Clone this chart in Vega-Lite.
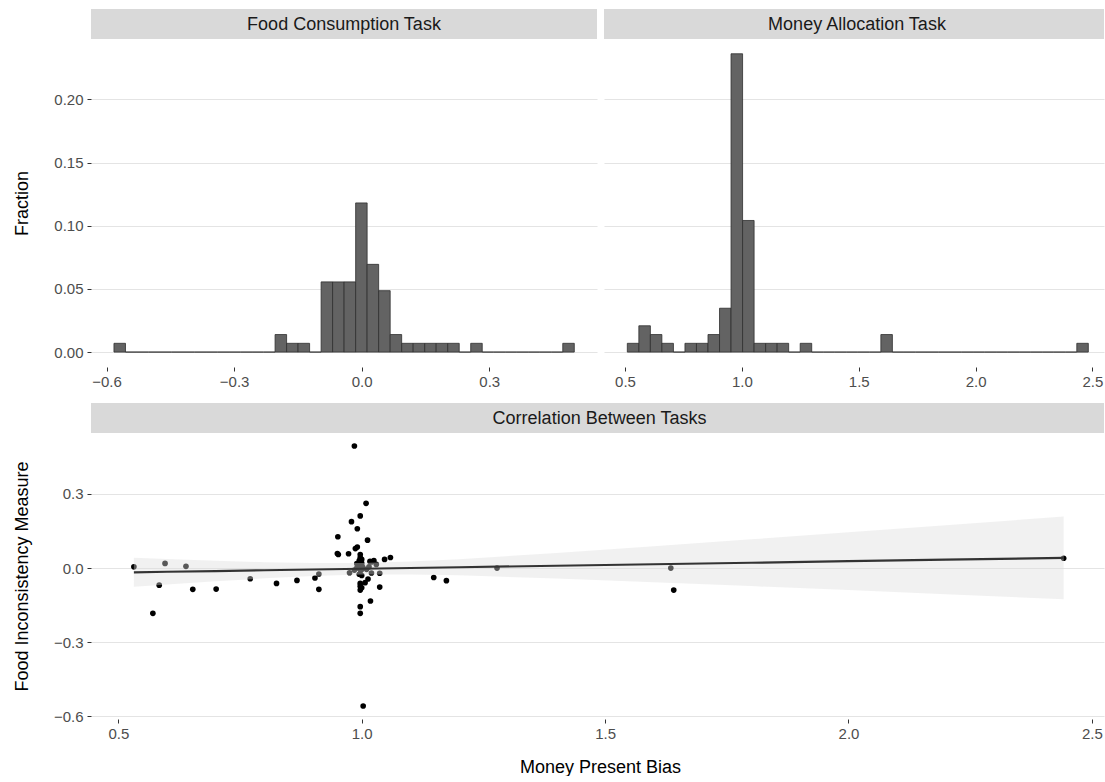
{
  "$schema": "https://vega.github.io/schema/vega-lite/v6.json",
  "padding": {"left": 13, "top": 9, "right": 1, "bottom": 0},
  "background": "#ffffff",
  "config": {
    "font": "Liberation Sans",
    "view": {"stroke": null},
    "axis": {
      "domain": false,
      "labelColor": "#4d4d4d",
      "labelFontSize": 15,
      "titleFontSize": 18,
      "titleFontWeight": "normal",
      "titleColor": "#000000",
      "tickColor": "#333333",
      "tickSize": 4,
      "tickWidth": 1,
      "labelPadding": 3,
      "gridColor": "#e4e4e4",
      "gridWidth": 1.1,
      "labelFlush": false,
      "labelOverlap": false
    }
  },
  "datasets": {
    "food": [
      {"start": -0.5826, "end": -0.5555, "fraction": 0.00694},
      {"start": -0.5555, "end": -0.5285, "fraction": 0},
      {"start": -0.5285, "end": -0.5014, "fraction": 0},
      {"start": -0.5014, "end": -0.4743, "fraction": 0},
      {"start": -0.4743, "end": -0.4473, "fraction": 0},
      {"start": -0.4473, "end": -0.4202, "fraction": 0},
      {"start": -0.4202, "end": -0.3931, "fraction": 0},
      {"start": -0.3931, "end": -0.3661, "fraction": 0},
      {"start": -0.3661, "end": -0.3390, "fraction": 0},
      {"start": -0.3390, "end": -0.3120, "fraction": 0},
      {"start": -0.3120, "end": -0.2849, "fraction": 0},
      {"start": -0.2849, "end": -0.2578, "fraction": 0},
      {"start": -0.2578, "end": -0.2308, "fraction": 0},
      {"start": -0.2308, "end": -0.2037, "fraction": 0},
      {"start": -0.2037, "end": -0.1766, "fraction": 0.01389},
      {"start": -0.1766, "end": -0.1496, "fraction": 0.00694},
      {"start": -0.1496, "end": -0.1225, "fraction": 0.00694},
      {"start": -0.1225, "end": -0.0954, "fraction": 0},
      {"start": -0.0954, "end": -0.0684, "fraction": 0.05556},
      {"start": -0.0684, "end": -0.0413, "fraction": 0.05556},
      {"start": -0.0413, "end": -0.0142, "fraction": 0.05556},
      {"start": -0.0142, "end": 0.0128, "fraction": 0.11806},
      {"start": 0.0128, "end": 0.0399, "fraction": 0.06944},
      {"start": 0.0399, "end": 0.0670, "fraction": 0.04861},
      {"start": 0.0670, "end": 0.0940, "fraction": 0.01389},
      {"start": 0.0940, "end": 0.1211, "fraction": 0.00694},
      {"start": 0.1211, "end": 0.1482, "fraction": 0.00694},
      {"start": 0.1482, "end": 0.1752, "fraction": 0.00694},
      {"start": 0.1752, "end": 0.2023, "fraction": 0.00694},
      {"start": 0.2023, "end": 0.2294, "fraction": 0.00694},
      {"start": 0.2294, "end": 0.2564, "fraction": 0},
      {"start": 0.2564, "end": 0.2835, "fraction": 0.00694},
      {"start": 0.2835, "end": 0.3105, "fraction": 0},
      {"start": 0.3105, "end": 0.3376, "fraction": 0},
      {"start": 0.3376, "end": 0.3647, "fraction": 0},
      {"start": 0.3647, "end": 0.3917, "fraction": 0},
      {"start": 0.3917, "end": 0.4188, "fraction": 0},
      {"start": 0.4188, "end": 0.4459, "fraction": 0},
      {"start": 0.4459, "end": 0.4729, "fraction": 0},
      {"start": 0.4729, "end": 0.5000, "fraction": 0.00694}
    ],
    "money": [
      {"start": 0.5099, "end": 0.5592, "fraction": 0.00694},
      {"start": 0.5592, "end": 0.6085, "fraction": 0.02083},
      {"start": 0.6085, "end": 0.6578, "fraction": 0.01389},
      {"start": 0.6578, "end": 0.7072, "fraction": 0.00694},
      {"start": 0.7072, "end": 0.7565, "fraction": 0},
      {"start": 0.7565, "end": 0.8058, "fraction": 0.00694},
      {"start": 0.8058, "end": 0.8551, "fraction": 0.00694},
      {"start": 0.8551, "end": 0.9044, "fraction": 0.01389},
      {"start": 0.9044, "end": 0.9537, "fraction": 0.03472},
      {"start": 0.9537, "end": 1.0031, "fraction": 0.23611},
      {"start": 1.0031, "end": 1.0524, "fraction": 0.10417},
      {"start": 1.0524, "end": 1.1017, "fraction": 0.00694},
      {"start": 1.1017, "end": 1.1510, "fraction": 0.00694},
      {"start": 1.1510, "end": 1.2003, "fraction": 0.00694},
      {"start": 1.2003, "end": 1.2496, "fraction": 0},
      {"start": 1.2496, "end": 1.2989, "fraction": 0.00694},
      {"start": 1.2989, "end": 1.3483, "fraction": 0},
      {"start": 1.3483, "end": 1.3976, "fraction": 0},
      {"start": 1.3976, "end": 1.4469, "fraction": 0},
      {"start": 1.4469, "end": 1.4962, "fraction": 0},
      {"start": 1.4962, "end": 1.5455, "fraction": 0},
      {"start": 1.5455, "end": 1.5948, "fraction": 0},
      {"start": 1.5948, "end": 1.6441, "fraction": 0.01389},
      {"start": 1.6441, "end": 1.6935, "fraction": 0},
      {"start": 1.6935, "end": 1.7428, "fraction": 0},
      {"start": 1.7428, "end": 1.7921, "fraction": 0},
      {"start": 1.7921, "end": 1.8414, "fraction": 0},
      {"start": 1.8414, "end": 1.8907, "fraction": 0},
      {"start": 1.8907, "end": 1.9400, "fraction": 0},
      {"start": 1.9400, "end": 1.9894, "fraction": 0},
      {"start": 1.9894, "end": 2.0387, "fraction": 0},
      {"start": 2.0387, "end": 2.0880, "fraction": 0},
      {"start": 2.0880, "end": 2.1373, "fraction": 0},
      {"start": 2.1373, "end": 2.1866, "fraction": 0},
      {"start": 2.1866, "end": 2.2359, "fraction": 0},
      {"start": 2.2359, "end": 2.2852, "fraction": 0},
      {"start": 2.2852, "end": 2.3346, "fraction": 0},
      {"start": 2.3346, "end": 2.3839, "fraction": 0},
      {"start": 2.3839, "end": 2.4332, "fraction": 0},
      {"start": 2.4332, "end": 2.4825, "fraction": 0.00694}
    ],
    "pts": [
      {"money": 0.985, "food": 0.494}, {"money": 1.009, "food": 0.262}, {"money": 0.997, "food": 0.211},
      {"money": 0.979, "food": 0.188}, {"money": 0.991, "food": 0.159}, {"money": 0.951, "food": 0.127},
      {"money": 1.012, "food": 0.113}, {"money": 0.991, "food": 0.085}, {"money": 0.987, "food": 0.079},
      {"money": 0.950, "food": 0.059}, {"money": 0.952, "food": 0.055}, {"money": 0.973, "food": 0.058},
      {"money": 0.997, "food": 0.055}, {"money": 0.997, "food": 0.043}, {"money": 1.047, "food": 0.035},
      {"money": 1.059, "food": 0.043}, {"money": 1.017, "food": 0.027}, {"money": 0.532, "food": 0.005},
      {"money": 0.596, "food": 0.019}, {"money": 0.639, "food": 0.007}, {"money": 0.584, "food": -0.069},
      {"money": 0.571, "food": -0.183}, {"money": 0.653, "food": -0.086}, {"money": 0.701, "food": -0.085},
      {"money": 0.771, "food": -0.043}, {"money": 0.825, "food": -0.062}, {"money": 0.867, "food": -0.050},
      {"money": 0.904, "food": -0.040}, {"money": 0.912, "food": -0.024}, {"money": 0.912, "food": -0.086},
      {"money": 0.975, "food": -0.019}, {"money": 1.037, "food": -0.021}, {"money": 1.013, "food": -0.044},
      {"money": 1.007, "food": -0.059}, {"money": 0.997, "food": -0.062}, {"money": 0.997, "food": -0.073},
      {"money": 0.997, "food": -0.089}, {"money": 1.037, "food": -0.077}, {"money": 1.018, "food": -0.133},
      {"money": 0.997, "food": -0.156}, {"money": 0.997, "food": -0.183}, {"money": 1.003, "food": -0.558},
      {"money": 1.148, "food": -0.038}, {"money": 1.174, "food": -0.051}, {"money": 1.278, "food": 0.000},
      {"money": 1.635, "food": 0.000}, {"money": 1.641, "food": -0.089}, {"money": 2.442, "food": 0.040},
      {"money": 1.000, "food": -0.080}, {"money": 1.000, "food": -0.030}, {"money": 1.020, "food": -0.020},
      {"money": 0.995, "food": -0.025}, {"money": 0.990, "food": 0.000}, {"money": 0.995, "food": 0.005},
      {"money": 1.000, "food": -0.005}, {"money": 1.000, "food": 0.010}, {"money": 1.001, "food": 0.000},
      {"money": 0.998, "food": -0.010}, {"money": 0.993, "food": 0.008}, {"money": 1.000, "food": 0.000},
      {"money": 1.002, "food": 0.003}, {"money": 1.010, "food": -0.005}, {"money": 1.015, "food": 0.005},
      {"money": 0.985, "food": -0.008}, {"money": 0.997, "food": 0.012}, {"money": 1.000, "food": 0.020},
      {"money": 1.020, "food": 0.025}, {"money": 1.030, "food": 0.015}, {"money": 0.995, "food": 0.030},
      {"money": 1.000, "food": 0.035}, {"money": 0.990, "food": 0.018}, {"money": 1.025, "food": 0.030}
    ],
    "fit": [
      {"x": 0.532, "fit": -0.0170, "lo": -0.0755, "hi": 0.0415},
      {"x": 0.6, "fit": -0.0149, "lo": -0.0664, "hi": 0.0366},
      {"x": 0.7, "fit": -0.0119, "lo": -0.0535, "hi": 0.0297},
      {"x": 0.8, "fit": -0.0088, "lo": -0.0416, "hi": 0.0240},
      {"x": 0.9, "fit": -0.0058, "lo": -0.0319, "hi": 0.0203},
      {"x": 1.0, "fit": -0.0027, "lo": -0.0262, "hi": 0.0208},
      {"x": 1.1, "fit": 0.0003, "lo": -0.0258, "hi": 0.0264},
      {"x": 1.2, "fit": 0.0034, "lo": -0.0294, "hi": 0.0362},
      {"x": 1.4, "fit": 0.0095, "lo": -0.0420, "hi": 0.0610},
      {"x": 1.6, "fit": 0.0156, "lo": -0.0570, "hi": 0.0882},
      {"x": 1.8, "fit": 0.0217, "lo": -0.0729, "hi": 0.1163},
      {"x": 2.0, "fit": 0.0278, "lo": -0.0891, "hi": 0.1447},
      {"x": 2.2, "fit": 0.0339, "lo": -0.1055, "hi": 0.1733},
      {"x": 2.442, "fit": 0.0413, "lo": -0.1258, "hi": 0.2084}
    ]
  },
  "vconcat": [
    {
      "hconcat": [
        {
          "vconcat": [
            {
              "width": 506, "height": 30,
              "view": {"fill": "#d9d9d9", "stroke": null},
              "data": {"values": [{"label": "Food Consumption Task"}]},
              "mark": {"type": "text", "fontSize": 18, "color": "#1a1a1a", "dy": 1},
              "encoding": {"text": {"field": "label", "type": "nominal"}}
            },
            {
              "width": 506, "height": 328,
              "data": {"name": "food"},
              "mark": {"type": "rect", "fill": "#636363", "stroke": "#2e2e2e", "strokeWidth": 0.8},
              "encoding": {
                "x": {"field": "start", "type": "quantitative",
                      "scale": {"domain": [-0.6366, 0.5534], "nice": false, "zero": false},
                      "axis": {"title": null, "grid": false, "values": [-0.6, -0.3, 0, 0.3], "format": ".1f"}},
                "x2": {"field": "end"},
                "y": {"field": "fraction", "type": "quantitative",
                      "scale": {"domain": [-0.0118, 0.2478], "nice": false, "zero": false},
                      "axis": {"title": "Fraction", "grid": true, "values": [0, 0.05, 0.1, 0.15, 0.2], "format": ".2f",
                               "minExtent": 40, "maxExtent": 40, "titlePadding": 20, "labelPadding": 4}},
                "y2": {"datum": 0}
              }
            }
          ],
          "spacing": 0,
          "bounds": "flush"
        },
        {
          "vconcat": [
            {
              "width": 500, "height": 30,
              "view": {"fill": "#d9d9d9", "stroke": null},
              "data": {"values": [{"label": "Money Allocation Task"}]},
              "mark": {"type": "text", "fontSize": 18, "color": "#1a1a1a", "dy": 1, "dx": 3},
              "encoding": {"text": {"field": "label", "type": "nominal"}}
            },
            {
              "width": 500, "height": 328,
              "data": {"name": "money"},
              "mark": {"type": "rect", "fill": "#636363", "stroke": "#2e2e2e", "strokeWidth": 0.8},
              "encoding": {
                "x": {"field": "start", "type": "quantitative",
                      "scale": {"domain": [0.4101, 2.5496], "nice": false, "zero": false},
                      "axis": {"title": null, "grid": false, "values": [0.5, 1, 1.5, 2, 2.5], "format": ".1f"}},
                "x2": {"field": "end"},
                "y": {"field": "fraction", "type": "quantitative",
                      "scale": {"domain": [-0.0118, 0.2478], "nice": false, "zero": false},
                      "axis": {"title": null, "grid": true, "labels": false, "ticks": false, "values": [0, 0.05, 0.1, 0.15, 0.2]}},
                "y2": {"datum": 0}
              }
            }
          ],
          "spacing": 0,
          "bounds": "flush"
        }
      ],
      "spacing": 7
    },
    {
      "vconcat": [
        {
          "width": 1013, "height": 30,
          "view": {"fill": "#d9d9d9", "stroke": null},
          "data": {"values": [{"label": "Correlation Between Tasks"}]},
          "mark": {"type": "text", "fontSize": 18, "color": "#1a1a1a", "dy": 1, "dx": 2},
          "encoding": {"text": {"field": "label", "type": "nominal"}}
        },
        {
          "width": 1013, "height": 286,
          "layer": [
            {
              "data": {"name": "pts"},
              "mark": {"type": "circle", "size": 32, "color": "#000000", "opacity": 1},
              "encoding": {
                "x": {"field": "money", "type": "quantitative", "title": "Money Present Bias",
                      "scale": {"domain": [0.4439, 2.5249], "nice": false, "zero": false},
                      "axis": {"grid": false, "values": [0.5, 1, 1.5, 2, 2.5], "format": ".1f", "titlePadding": 17, "titleX": 509}},
                "y": {"field": "food", "type": "quantitative", "title": "Food Inconsistency Measure",
                      "scale": {"domain": [-0.6106, 0.5466], "nice": false, "zero": false},
                      "axis": {"grid": true, "values": [-0.6, -0.3, 0, 0.3], "format": ".1f",
                               "minExtent": 40, "maxExtent": 40, "titlePadding": 20, "labelPadding": 4}}
              }
            },
            {
              "data": {"name": "fit"},
              "mark": {"type": "area", "color": "#dddddd", "opacity": 0.4},
              "encoding": {
                "x": {"field": "x", "type": "quantitative", "title": "Money Present Bias"},
                "y": {"field": "lo", "type": "quantitative", "title": "Food Inconsistency Measure"},
                "y2": {"field": "hi"}
              }
            },
            {
              "data": {"name": "fit"},
              "mark": {"type": "line", "color": "#333333", "strokeWidth": 2.2},
              "encoding": {
                "x": {"field": "x", "type": "quantitative", "title": "Money Present Bias"},
                "y": {"field": "fit", "type": "quantitative", "title": "Food Inconsistency Measure"}
              }
            }
          ]
        }
      ],
      "spacing": 0,
      "bounds": "flush"
    }
  ],
  "spacing": 14
}
